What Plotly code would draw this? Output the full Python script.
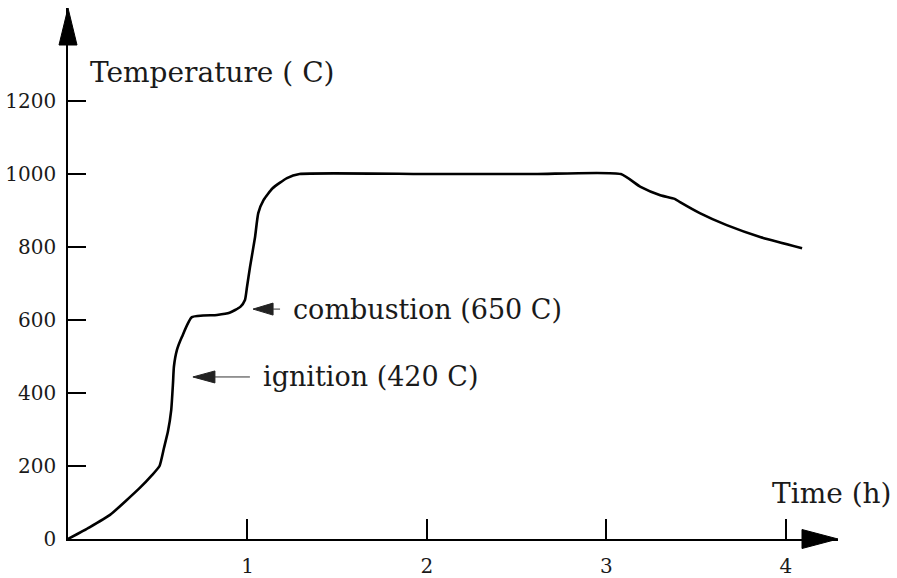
import plotly.graph_objects as go

# ---- data ----
time_h = [0.0, 0.12, 0.234, 0.40, 0.468, 0.51, 0.535, 0.557, 0.575, 0.585, 0.59,
          0.607, 0.635, 0.69, 0.83, 0.90, 0.96, 0.986, 0.997, 1.014, 1.042,
          1.06, 1.09, 1.14, 1.22, 1.29, 2.0, 2.6, 3.08, 3.19, 3.30, 3.38,
          3.41, 3.52, 3.67, 3.86, 4.09]
temp_c = [0, 32, 66, 140, 175, 200, 250, 295, 353, 427, 472,
          518, 554, 608, 614, 620, 636, 655, 690, 745, 827,
          893, 929, 961, 989, 1000, 1000, 1000, 1000, 965, 942, 932,
          923, 893, 860, 827, 797]

x_ticks = [1, 2, 3, 4]
x_tick_labels = ["1", "2", "3", "4"]
y_ticks = [0, 200, 400, 600, 800, 1000, 1200]
y_tick_labels = ["0", "200", "400", "600", "800", "1000", "1200"]

note_texts = ["ignition (420 C)", "combustion (650 C)"]
note_t = [0.696, 1.031]
note_T = [444, 630]

y_title = "Temperature ( C)"
x_title = "Time (h)"

FONT = "DejaVu Serif"
INK = "#1a1a1a"

fig = go.Figure()
fig.add_trace(go.Scatter(x=time_h, y=temp_c, mode="lines",
                         line=dict(color="black", width=2.6, shape="spline", smoothing=0.5),
                         hoverinfo="skip", showlegend=False))

fig.update_xaxes(range=[0, 4.29], showline=True, linecolor="black", linewidth=1.6,
                 ticks="inside", ticklen=20, tickwidth=1.6, tickcolor="black",
                 tickvals=x_ticks, ticktext=x_tick_labels, showgrid=False,
                 zeroline=False, tickfont=dict(family=FONT, size=20, color=INK),
                 ticklabelstandoff=8, automargin=False)
fig.update_yaxes(range=[0, 1455], showline=True, linecolor="black", linewidth=1.6,
                 ticks="inside", ticklen=18, tickwidth=1.6, tickcolor="black",
                 tickvals=y_ticks, ticktext=y_tick_labels, showgrid=False,
                 zeroline=False, tickfont=dict(family=FONT, size=20, color=INK),
                 ticklabelstandoff=6, automargin=False)

shapes = []
# axis arrowheads (pixel sized, anchored at axis ends)
shapes.append(dict(type="path", xref="paper", yref="paper", xsizemode="pixel",
                   ysizemode="pixel", xanchor=0, yanchor=1,
                   path="M 0 0 L -9 -37 L 9 -37 Z", fillcolor="black",
                   line=dict(color="black", width=1)))
shapes.append(dict(type="path", xref="paper", yref="paper", xsizemode="pixel",
                   ysizemode="pixel", xanchor=1, yanchor=0,
                   path="M 0 0 L -36 9.5 L -36 -9.5 Z", fillcolor="black",
                   line=dict(color="black", width=1)))

head_len = [22, 20]
tail_end = [57, 27]
annotations = []
for txt, t, T, hl, te, sh in zip(note_texts, note_t, note_T, head_len, tail_end, [68, 38]):
    shapes.append(dict(type="path", xref="x", yref="y", xsizemode="pixel",
                       ysizemode="pixel", xanchor=t, yanchor=T,
                       path=f"M 0 0 L {hl} 6 L {hl} -6 Z", fillcolor="#222",
                       line=dict(color="#222", width=1)))
    shapes.append(dict(type="line", xref="x", yref="y", xsizemode="pixel",
                       ysizemode="pixel", xanchor=t, yanchor=T,
                       x0=hl, x1=te, y0=0, y1=0, line=dict(color="#333", width=1)))
    annotations.append(dict(x=t, y=T, xref="x", yref="y", text=txt, showarrow=False,
                            xanchor="left", yanchor="middle", xshift=sh,
                            font=dict(family=FONT, size=27, color=INK)))

annotations.append(dict(x=0.0260, y=0.878, xref="paper", yref="paper", text=y_title,
                        showarrow=False, xanchor="left", yanchor="middle",
                        font=dict(family=FONT, size=28, color=INK)))
annotations.append(dict(x=0.912, y=0.085, xref="paper", yref="paper", text=x_title,
                        showarrow=False, xanchor="left", yanchor="middle",
                        font=dict(family=FONT, size=28, color=INK)))

fig.update_layout(width=897, height=578, margin=dict(l=68, r=59, t=8, b=39),
                  paper_bgcolor="white", plot_bgcolor="white",
                  shapes=shapes, annotations=annotations)

fig.write_html("out.html")
